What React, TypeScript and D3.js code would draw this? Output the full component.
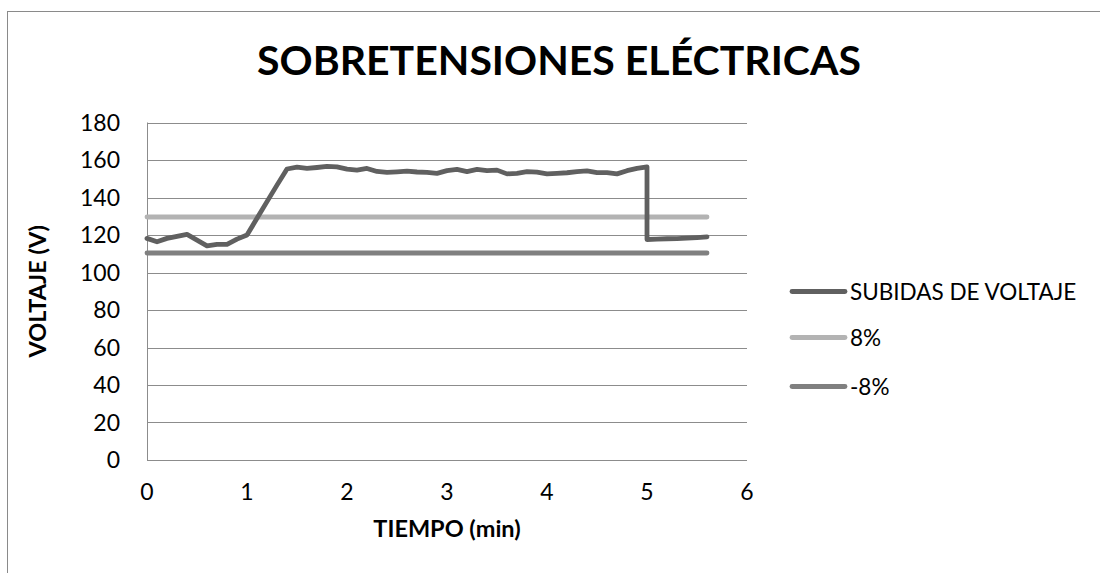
import React, { useEffect, useRef } from 'react';
import * as d3 from 'd3';

const tiempo = [
  0, 0.1, 0.2, 0.3, 0.4, 0.5, 0.6, 0.7, 0.8, 0.9,
  1.0, 1.1, 1.2, 1.3, 1.4, 1.5, 1.6, 1.7, 1.8, 1.9,
  2.0, 2.1, 2.2, 2.3, 2.4, 2.5, 2.6, 2.7, 2.8, 2.9,
  3.0, 3.1, 3.2, 3.3, 3.4, 3.5, 3.6, 3.7, 3.8, 3.9,
  4.0, 4.1, 4.2, 4.3, 4.4, 4.5, 4.6, 4.7, 4.8, 4.9,
  5.0, 5.0, 5.1, 5.2, 5.3, 5.4, 5.5, 5.6,
];
const subidas = [
  118.2, 116.4, 118.2, 119.3, 120.3, 117.3, 114.2, 115, 115, 117.8,
  120, 128.9, 137.8, 146.6, 155.2, 156.2, 155.5, 156, 156.6, 156.3,
  155.1, 154.6, 155.5, 153.9, 153.4, 153.7, 154.1, 153.6, 153.4, 152.9,
  154.3, 155, 153.8, 155, 154.3, 154.6, 152.6, 152.9, 153.8, 153.5,
  152.6, 152.9, 153.2, 153.8, 154.2, 153.3, 153.3, 152.6, 154.3, 155.5,
  156.3, 117.6, 117.8, 118, 118.1, 118.3, 118.6, 119,
];
const limiteTiempo = [0, 5.6];
const mas8 = [129.6, 129.6];
const menos8 = [110.4, 110.4];

const xTicks = [0, 1, 2, 3, 4, 5, 6];
const yTicks = [0, 20, 40, 60, 80, 100, 120, 140, 160, 180];

const seriesNames = ['SUBIDAS DE VOLTAJE', '8%', '-8%'];
const seriesColors = ['#606060', '#b3b3b3', '#808080'];

const W = 1100;
const H = 573;
const FONT = 'Lato, "Open Sans", sans-serif';

const App = () => {
  const svgRef = useRef<SVGSVGElement>(null);

  useEffect(() => {
    const svg = d3.select(svgRef.current);
    svg.selectAll('*').remove();

    const x = d3.scaleLinear().domain([0, 6]).range([147, 747]);
    const y = d3.scaleLinear().domain([0, 180]).range([460, 122.5]);

    // chart frame (right/bottom edges are outside the picture)
    svg.append('rect')
      .attr('x', 7.5).attr('y', 11.5)
      .attr('width', W + 20).attr('height', H + 20)
      .attr('fill', 'white').attr('stroke', '#8a8a8a').attr('stroke-width', 1);

    svg.append('text')
      .attr('x', 559).attr('y', 75)
      .attr('text-anchor', 'middle')
      .attr('font-family', FONT).attr('font-weight', 'bold').attr('font-size', 41)
      .attr('fill', '#000')
      .text('SOBRETENSIONES ELÉCTRICAS');

    // gridlines
    svg.append('g')
      .selectAll('line')
      .data(yTicks)
      .enter()
      .append('line')
      .attr('x1', x(0)).attr('x2', x(6))
      .attr('y1', d => Math.round(y(d)) + 0.5).attr('y2', d => Math.round(y(d)) + 0.5)
      .attr('stroke', '#8c8c8c').attr('stroke-width', 1);

    // y axis line
    svg.append('line')
      .attr('x1', x(0) + 0.5).attr('x2', x(0) + 0.5)
      .attr('y1', y(180)).attr('y2', y(0))
      .attr('stroke', '#8c8c8c');

    // tick labels
    svg.append('g')
      .selectAll('text')
      .data(yTicks)
      .enter()
      .append('text')
      .attr('x', 120).attr('y', d => y(d) + 8)
      .attr('text-anchor', 'end')
      .attr('font-family', FONT).attr('font-size', 23)
      .text(d => d);

    svg.append('g')
      .selectAll('text')
      .data(xTicks)
      .enter()
      .append('text')
      .attr('x', d => x(d)).attr('y', 500)
      .attr('text-anchor', 'middle')
      .attr('font-family', FONT).attr('font-size', 23)
      .text(d => d);

    // axis titles
    svg.append('text')
      .attr('x', x(3)).attr('y', 537)
      .attr('text-anchor', 'middle')
      .attr('font-family', FONT).attr('font-weight', 'bold').attr('font-size', 23.5)
      .text('TIEMPO (min)');

    svg.append('text')
      .attr('transform', `translate(46,${(y(0) + y(180)) / 2}) rotate(-90)`)
      .attr('text-anchor', 'middle')
      .attr('font-family', FONT).attr('font-weight', 'bold').attr('font-size', 23.5)
      .text('VOLTAJE (V)');

    // series
    const line = d3.line<[number, number]>()
      .x(d => x(d[0]))
      .y(d => y(d[1]));

    const series: [number, number][][] = [
      tiempo.map((t, i) => [t, subidas[i]]),
      limiteTiempo.map((t, i) => [t, mas8[i]]),
      limiteTiempo.map((t, i) => [t, menos8[i]]),
    ];

    // -8% and 8% go under the main line
    [2, 1, 0].forEach(i => {
      svg.append('path')
        .datum(series[i])
        .attr('d', line)
        .attr('fill', 'none')
        .attr('stroke', seriesColors[i])
        .attr('stroke-width', 4.8)
        .attr('stroke-linecap', 'round')
        .attr('stroke-linejoin', 'round');
    });

    // legend
    const legendY = [291.5, 337.5, 386.5];
    const legend = svg.append('g');
    seriesNames.forEach((name, i) => {
      legend.append('line')
        .attr('x1', 792).attr('x2', 845)
        .attr('y1', legendY[i]).attr('y2', legendY[i])
        .attr('stroke', seriesColors[i])
        .attr('stroke-width', 4.8)
        .attr('stroke-linecap', 'round');
      legend.append('text')
        .attr('x', 850).attr('y', legendY[i] + 8)
        .attr('font-family', FONT).attr('font-size', 22.5)
        .text(name);
    });
  }, []);

  return (
    <svg
      ref={svgRef}
      width={W}
      height={H}
      style={{ position: 'absolute', left: 0, top: 0, background: 'white' }}
    ></svg>
  );
};

export default App;
